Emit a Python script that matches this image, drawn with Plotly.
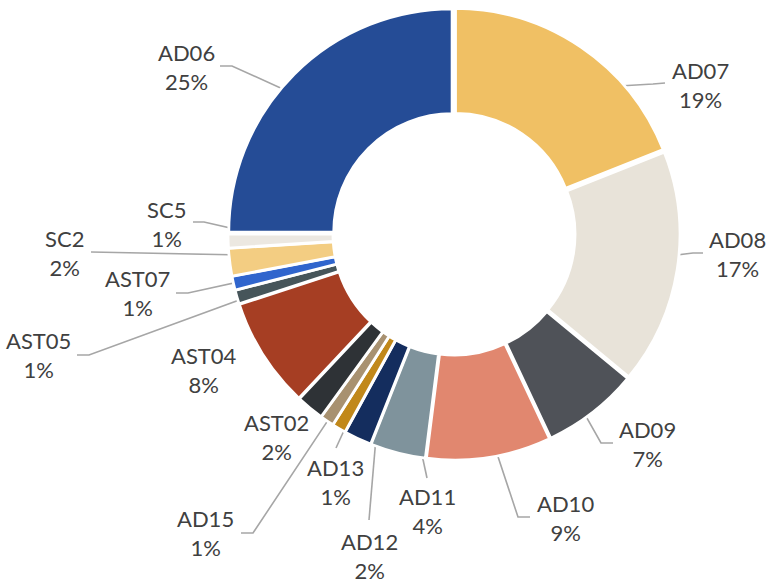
"""Doughnut chart: share per unit (AD / AST / SC), Excel-style outside labels
with grey leader lines."""

import math
import plotly.graph_objects as go

W, H = 767, 584

# ---------------------------------------------------------------------------
# Data (clockwise from 12 o'clock)
# ---------------------------------------------------------------------------
LABELS = ["AD07", "AD08", "AD09", "AD10", "AD11", "AD12", "AD13", "AD15",
          "AST02", "AST04", "AST05", "AST07", "SC2", "SC5", "AD06"]
VALUES = [19, 17, 7, 9, 4, 2, 1, 1, 2, 8, 1, 1, 2, 1, 25]
COLORS = ["#F0C064", "#E8E3D9", "#4F5258", "#E1876F", "#7F939C", "#142D5E",
          "#C1881A", "#A89170", "#2E3236", "#A63E23", "#46555A", "#3065CD",
          "#F3CD82", "#ECE8E1", "#254C96"]

# ---------------------------------------------------------------------------
# Layout (pixels): donut box, label centres and leader-line elbows
# ---------------------------------------------------------------------------
CX, CY, R = 454, 234, 226
LEADER_R = 0.77          # leader ends at this fraction of outer radius
TEXT_COLOR = "#404040"
LINE_COLOR = "#A6A6A6"

LABEL_POS = {            # centre of the two-line label
    "AD06": (186, 67), "AD07": (700, 85), "AD08": (737, 254),
    "AD09": (647, 444), "AD10": (565, 518), "AD11": (427, 511),
    "AD12": (369, 556), "AD13": (335, 482), "AD15": (205, 533),
    "AST02": (276, 437), "AST04": (204, 370), "AST05": (38, 355),
    "AST07": (137, 293), "SC2": (64, 253), "SC5": (166, 224),
}
LEADERS = {              # points from the label side towards the slice
    "AD06": [(220, 66), (232, 66)], "AD07": [(665, 83), (653, 84)],
    "AD08": [(703, 253), (693, 253)], "AD09": [(613, 443), (601, 443)],
    "AD10": [(530, 517), (518, 517)], "AD11": [(427, 478)],
    "AD12": [(369, 520)], "AD13": [(336, 448)],
    "AD15": [(241, 533), (253, 533)], "AST05": [(77, 355), (89, 355)],
    "AST07": [(176, 293), (188, 293)], "SC2": [(91, 252)],
    "SC5": [(193, 222), (204, 222)],
}

fig = go.Figure()
fig.add_trace(go.Pie(
    labels=LABELS, values=VALUES, sort=False, direction="clockwise",
    rotation=0, hole=0.53, pull=0.012, textinfo="none", hoverinfo="label+percent",
    marker=dict(colors=COLORS, line=dict(color="white", width=2.8)),
    domain=dict(x=[(CX - R) / W, (CX + R) / W],
                y=[1 - (CY + R) / H, 1 - (CY - R) / H]),
    showlegend=False,
))

# leader lines, ending inside the slice at its mid angle
total = sum(VALUES)
cum = 0.0
lx, ly = [], []
for lab, v in zip(LABELS, VALUES):
    mid = (cum + v / 2) / total * 2 * math.pi
    cum += v
    pts = LEADERS.get(lab)
    if not pts:
        continue
    sx = CX + LEADER_R * R * math.sin(mid)
    sy = CY - LEADER_R * R * math.cos(mid)
    for x, y in pts + [(sx, sy)]:
        lx.append(x)
        ly.append(y)
    lx.append(None)
    ly.append(None)

fig.add_trace(go.Scatter(x=lx, y=ly, mode="lines", hoverinfo="skip",
                         line=dict(color=LINE_COLOR, width=1.6),
                         showlegend=False))

for lab, v in zip(LABELS, VALUES):
    x, y = LABEL_POS[lab]
    fig.add_annotation(x=x, y=y, xref="x", yref="y", showarrow=False,
                       text=f"{lab}<br>{round(v / total * 100)}%",
                       font=dict(family="Lato", size=22, color=TEXT_COLOR),
                       xanchor="center", yanchor="middle", align="center")

fig.update_xaxes(visible=False, range=[0, W], fixedrange=True)
fig.update_yaxes(visible=False, range=[H, 0], fixedrange=True)
fig.update_layout(width=W, height=H, margin=dict(l=0, r=0, t=0, b=0),
                  paper_bgcolor="white", plot_bgcolor="rgba(0,0,0,0)")

# drop the browser's default body margin so the 767x584 figure fills the page
fig.write_html("out.html", config={"displayModeBar": False},
               post_script="document.body.style.margin='0';")
